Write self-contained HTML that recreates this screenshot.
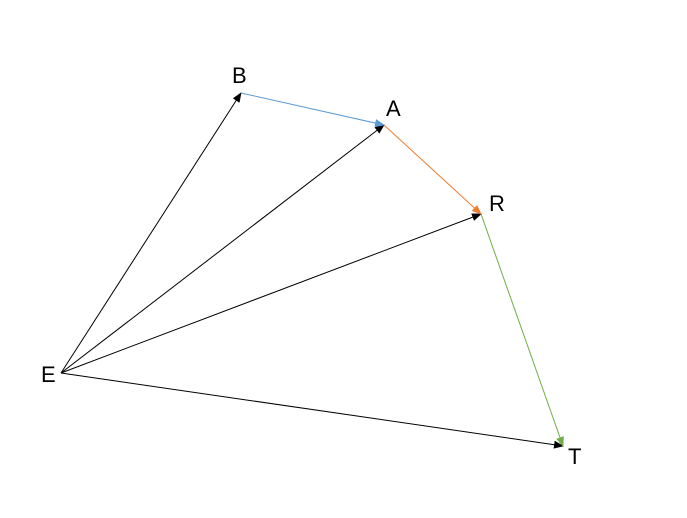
<!DOCTYPE html>
<html><head><style>body{margin:0;background:#fff}svg{display:block}</style></head>
<body>
<svg width="687" height="518" viewBox="0 0 687 518" xmlns="http://www.w3.org/2000/svg">
<defs>
<marker id="k" markerWidth="10" markerHeight="8" refX="9" refY="4" orient="auto" markerUnits="userSpaceOnUse"><path d="M0,0 L10,4 L0,8 z" fill="#000"/></marker>
<marker id="b" markerWidth="10" markerHeight="8" refX="9" refY="4" orient="auto" markerUnits="userSpaceOnUse"><path d="M0,0 L10,4 L0,8 z" fill="#5b9bd5"/></marker>
<marker id="o" markerWidth="10" markerHeight="8" refX="9" refY="4" orient="auto" markerUnits="userSpaceOnUse"><path d="M0,0 L10,4 L0,8 z" fill="#ed7d31"/></marker>
<marker id="g" markerWidth="10" markerHeight="8" refX="9" refY="4" orient="auto" markerUnits="userSpaceOnUse"><path d="M0,0 L10,4 L0,8 z" fill="#70ad47"/></marker>
</defs>
<g stroke-width="1" fill="none">
<line x1="61" y1="373" x2="241" y2="93" stroke="#000" marker-end="url(#k)"/>
<line x1="61" y1="373" x2="384" y2="125" stroke="#000" marker-end="url(#k)"/>
<line x1="61" y1="373" x2="481" y2="214" stroke="#000" marker-end="url(#k)"/>
<line x1="61" y1="373" x2="563" y2="446" stroke="#000" marker-end="url(#k)"/>
<line x1="241" y1="93" x2="384" y2="125" stroke="#5b9bd5" marker-end="url(#b)"/>
<line x1="384" y1="125" x2="481" y2="214" stroke="#ed7d31" marker-end="url(#o)"/>
<line x1="481" y1="214" x2="563" y2="446" stroke="#70ad47" marker-end="url(#g)"/>
</g>
<g font-family="Liberation Sans, sans-serif" font-size="22" fill="#000">
<text x="232" y="83">B</text>
<text x="386" y="116">A</text>
<text x="489" y="211">R</text>
<text x="41" y="382">E</text>
<text x="568" y="464">T</text>
</g>
</svg>
</body></html>
